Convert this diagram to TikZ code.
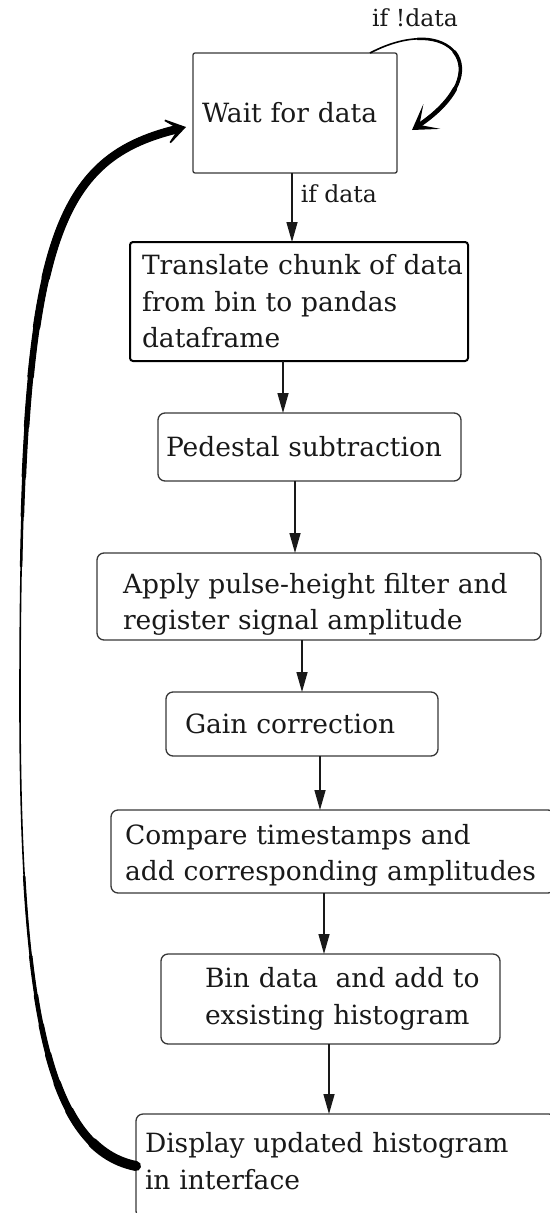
\documentclass[tikz,border=0pt]{standalone}
\usepackage{fontspec}
\setmainfont{DejaVu Serif}
\usetikzlibrary{arrows.meta,positioning}
\definecolor{boxline}{RGB}{55,55,55}
\definecolor{ink}{RGB}{25,25,25}
\tikzset{
  stepbox/.style={rectangle,rounded corners=7pt,draw=boxline,line width=1.3pt,
    align=left,inner ysep=2pt,outer sep=0pt,text=ink,
    font=\fontsize{26.5}{36.5}\selectfont},
  lbl/.style={inner sep=0pt,text=ink,font=\fontsize{23.5}{28}\selectfont},
  arr/.style={-{Triangle[length=20pt,width=11pt]},line width=1.5pt,draw=ink},
  % hand-drawn looking loops: thin base line, thicker dashes laid on top
  back/.style={line width=1.6pt,draw=black},
  swell/.style={line width=#1,draw=black,line cap=round}
}

\begin{document}
\begin{tikzpicture}[x=1pt,y=-1pt]
  \useasboundingbox (0,0) rectangle (549,1213);
  \node[stepbox,rounded corners=2pt,minimum height=120pt,text width=186pt,inner xsep=9pt]
    (wait) at (295,113) {Wait for data};
  \node[stepbox,rounded corners=3pt,line width=2pt,draw=black,minimum height=119pt,
    text width=314pt,inner xsep=12pt,below=69pt of wait,xshift=4pt]
    (trans) {\mbox{Translate chunk of data}\\from bin to pandas\\dataframe};
  \node[stepbox,minimum height=68pt,text width=287pt,inner xsep=8pt,
    below=52pt of trans,xshift=10.5pt] (ped) {Pedestal subtraction};
  \node[stepbox,minimum height=87pt,text width=392pt,inner xsep=26pt,
    below=72pt of ped,xshift=9.5pt]
    (pulse) {\mbox{\rule{0pt}{36pt}Apply pulse-height filter and}\\\mbox{register signal amplitude}};
  \node[stepbox,minimum height=64pt,text width=234pt,inner xsep=19pt,
    below=52pt of pulse,xshift=-17pt] (gain) {Gain correction};
  \node[stepbox,minimum height=83pt,text width=416pt,inner xsep=14pt,
    below=54pt of gain,xshift=31pt]
    (comp) {\mbox{\rule{0pt}{28pt}Compare timestamps and}\\\mbox{add corresponding amplitudes}};
  \node[stepbox,minimum height=90pt,text width=251pt,inner xsep=44pt,
    below=61pt of comp,xshift=-2.5pt]
    (bin) {\mbox{Bin data\ \ and add to}\\\mbox{exsisting histogram}};
  \node[stepbox,minimum height=104pt,text width=402pt,inner xsep=9pt,
    below=70pt of bin,xshift=15.5pt]
    (disp) {\mbox{Display updated histogram}\\in interface\rule[-10pt]{0pt}{0pt}};

  \draw[arr] ([xshift=-3pt]wait.south) -- ([xshift=-7pt]trans.north)
    node[lbl,pos=0.3,right=8pt] {if data};
  \draw[arr] ([xshift=-16pt]trans.south) -- ([xshift=-26.5pt]ped.north);
  \draw[arr] ([xshift=-14.5pt]ped.south) -- ([xshift=-24pt]pulse.north);
  \draw[arr] ([xshift=-17pt]pulse.south) -- (gain.north);
  \draw[arr] ([xshift=18pt]gain.south) -- ([xshift=-13pt]comp.north);
  \draw[arr] ([xshift=-9pt]comp.south) -- ([xshift=-6.5pt]bin.north);
  \draw[arr] ([xshift=-1.5pt]bin.south) -- ([xshift=-17pt]disp.north);

  % self loop while no data arrives
  \coordinate (looptip) at ([xshift=15pt,yshift=-17pt]wait.east);
  \draw[back,-{Stealth[length=24pt,width=30pt,inset=15pt]}]
    ([xshift=75pt]wait.north) .. controls +(80,-42) and +(88,-60) .. (looptip);
  \foreach \w/\p in {2.5pt/50pt,3.5pt/90pt,4.5pt/130pt}
    \draw[swell=\w,dash pattern=on 400pt off \p,dash phase=400pt,shorten >=9pt]
      ([xshift=75pt]wait.north) .. controls +(80,-42) and +(88,-60) .. (looptip);
  \node[lbl,above=26pt of wait.north east,xshift=18pt] (nodata) {if !data};

  % return to waiting after the histogram is shown
  \coordinate (retleft) at (20,700);
  \coordinate (rettip) at ([xshift=-7pt,yshift=-14pt]wait.west);
  \draw[back,-{Stealth[length=26pt,width=34pt,inset=18pt]}]
    (disp.west) .. controls +(-90,-18) and +(0,300) .. (retleft)
    .. controls +(0,-450) and +(-136,33) .. (rettip);
  \foreach \w/\a/\b in {2.5pt/330pt/310pt,3.5pt/250pt/440pt,4.5pt/210pt/520pt,
      5.5pt/180pt/600pt,6.5pt/150pt/680pt,7.5pt/120pt/760pt,8.5pt/90pt/840pt}
    \draw[swell=\w,dash pattern=on \a off \b on 2000pt,shorten >=9pt]
      (disp.west) .. controls +(-90,-18) and +(0,300) .. (retleft)
      .. controls +(0,-450) and +(-136,33) .. (rettip);
  \draw[swell=10pt,dash pattern=on 50pt off 4000pt]
    (disp.west) .. controls +(-90,-18) and +(0,300) .. (retleft);
\end{tikzpicture}
\end{document}
